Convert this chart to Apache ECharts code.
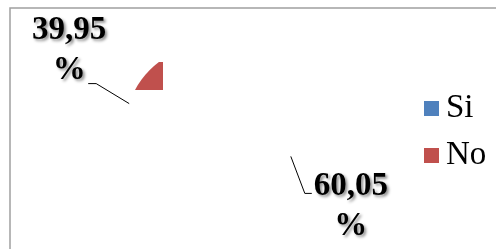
<!DOCTYPE html>
<html>
<head>
<meta http-equiv="Content-Type" content="text/html; charset=utf-8" />
<title>Si / No</title>
<style type="text/css">
html{height:100%}
body{height:100%;margin:0px;padding:0px;background:#fff}
#chart{width:496px;height:249px}
</style>
<script src="https://cdn.jsdelivr.net/npm/echarts@6/dist/echarts.min.js"></script>
</head>
<body>
<div id="chart"></div>
<script type="text/javascript">
var categories = ['Si', 'No'];
var values = [60.05, 39.95];
var colors = ['#4F81BD', '#C0504D'];

var pieData = categories.map(function(name, i){
	return {name: name, value: values[i], itemStyle: {color: colors[i]}};
});

// leader line bends, per slice (offset from the slice edge)
var bend = [[14, 37, 7], [-33, -20, -8]];

function pctText(v){
	return v.toFixed(2).replace('.', ',') + '\n%';
}

var chart = echarts.init(document.getElementById('chart'));
var option = {
	animation: false,
	graphic: [{
		type: 'rect',
		shape: {x: 10, y: 8, width: 600, height: 400},
		style: {fill: null, stroke: '#a0a0a0', lineWidth: 1.5},
		silent: true
	}],
	legend: {
		orient: 'vertical',
		left: 424,
		top: 92,
		padding: 0,
		icon: 'rect',
		itemWidth: 15,
		itemHeight: 15,
		itemGap: 14,
		data: categories,
		textStyle: {fontFamily: 'Liberation Serif', fontSize: 33, lineHeight: 30, color: '#000', padding: [0, 0, 0, 2]}
	},
	series: [
		{
			// coloured pie, only a piece of it ends up visible
			type: 'pie',
			center: [210, 130],
			radius: 85,
			startAngle: 90,
			clockwise: true,
			silent: true,
			label: {show: false},
			labelLine: {show: false},
			data: pieData
		},
		{
			// same pie, transparent, carries the labels
			type: 'pie',
			center: [210, 130],
			radius: 85,
			startAngle: 90,
			clockwise: true,
			silent: true,
			itemStyle: {color: 'rgba(0,0,0,0)'},
			label: {
				show: true,
				formatter: function(p){ return pctText(p.value); },
				fontFamily: 'Liberation Serif',
				fontWeight: 'bold',
				fontSize: 33,
				lineHeight: 40,
				color: '#000',
				align: 'center',
				textShadowColor: 'rgba(0,0,0,0.45)',
				textShadowBlur: 3,
				textShadowOffsetX: 2,
				textShadowOffsetY: 2
			},
			labelLine: {show: true, length: 30, length2: 8, lineStyle: {color: '#000', width: 1}},
			labelLayout: function(params){
				var p0 = params.labelLinePoints[0];
				var b = bend[params.dataIndex];
				var p1 = [p0[0] + b[0], p0[1] + b[1]];
				var p2 = [p1[0] + b[2], p1[1]];
				if (params.dataIndex === 0) {
					return {x: p2[0] + 39, y: p2[1] - 27, align: 'center', verticalAlign: 'top', labelLinePoints: [p0, p1, p2]};
				}
				return {x: p2[0] - 19, y: p2[1] - 73, align: 'center', verticalAlign: 'top', labelLinePoints: [p0, p1, p2]};
			},
			data: categories.map(function(name, i){ return {name: name, value: values[i]}; })
		}
	]
};
chart.setOption(option);

// the reference only shows a small corner of the red slice
try {
	var data = chart.getModel().getSeriesByIndex(0).getData();
	data.each(function(idx){
		var el = data.getItemGraphicEl(idx);
		if (el) el.setClipPath(new echarts.graphic.Rect({shape: {x: 131, y: 62, width: 32, height: 28}}));
	});
	chart.getZr().refresh();
} catch (e) {}
</script>
</body>
</html>
